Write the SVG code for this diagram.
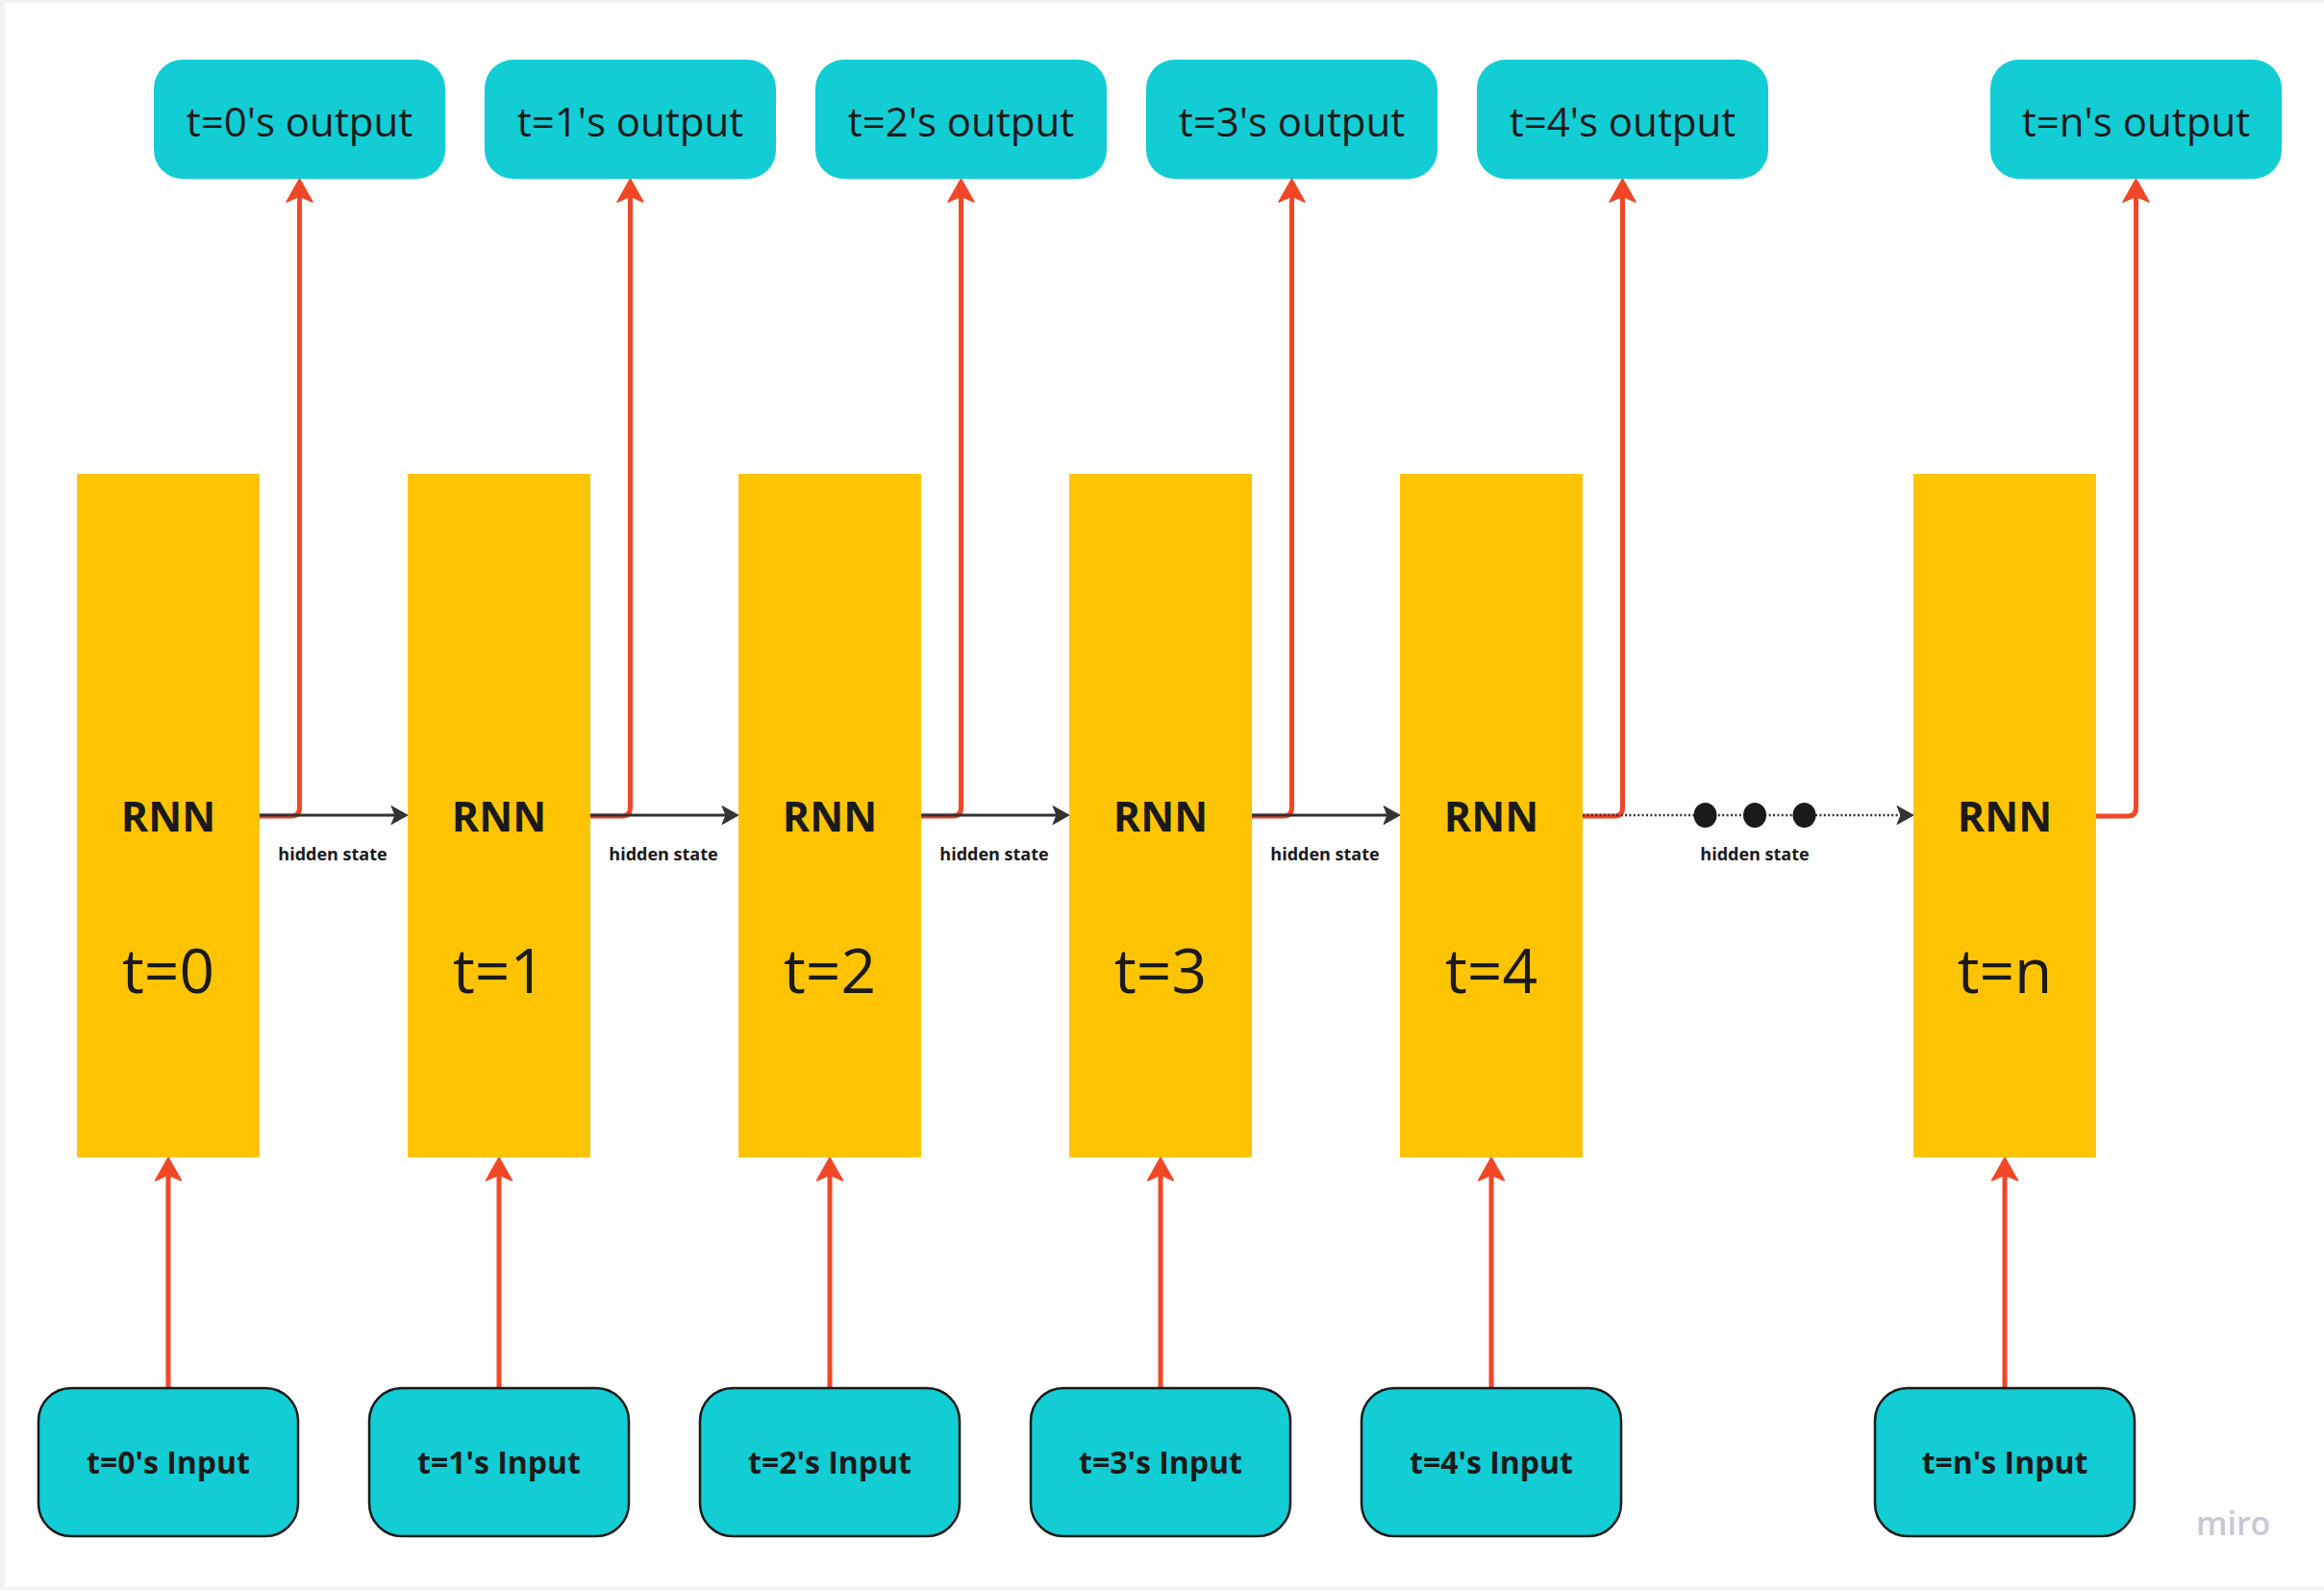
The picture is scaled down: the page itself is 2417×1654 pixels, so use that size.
<svg xmlns="http://www.w3.org/2000/svg" width="2417" height="1654" viewBox="0 0 2417 1654">
<style>
.out{fill:#12CDD4}
.inp{fill:#12CDD4;stroke:#1a1a1a;stroke-width:2.5}
.rnn{fill:#FEC401}
.t-out{font-family:"Open Sans","DejaVu Sans",sans-serif;font-size:42px;fill:#1a1a1a;text-anchor:middle}
.t-in{font-family:"Open Sans","DejaVu Sans",sans-serif;font-size:32px;font-weight:700;fill:#1a1a1a;text-anchor:middle}
.t-rnn{font-family:"Open Sans","DejaVu Sans",sans-serif;font-size:43px;font-weight:700;fill:#1a1a1a;text-anchor:middle}
.t-t{font-family:"Open Sans","DejaVu Sans",sans-serif;font-size:64px;fill:#1a1a1a;text-anchor:middle}
.t-hs{font-family:"Open Sans","DejaVu Sans",sans-serif;font-size:18px;font-weight:700;fill:#1a1a1a;text-anchor:middle}
.red{fill:none;stroke:#F24726;stroke-width:5;stroke-linejoin:round;marker-end:url(#ar)}
.hs{fill:none;stroke:#333333;stroke-width:3;marker-end:url(#ag)}
.dot{fill:none;stroke:#333333;stroke-width:2.5;stroke-dasharray:2 2.4;marker-end:url(#ag)}
</style>
<defs>
<marker id="ar" markerUnits="userSpaceOnUse" viewBox="-26 -16 28 32" refX="-17" refY="0" markerWidth="28" markerHeight="32" orient="auto" overflow="visible">
<path d="M0,0 L-24,-13.5 L-18,0 L-24,13.5 Z" fill="#F24726" stroke="#F24726" stroke-width="1.5" stroke-linejoin="round"/>
</marker>
<marker id="ag" markerUnits="userSpaceOnUse" viewBox="-19 -11 21 22" refX="-12" refY="0" markerWidth="21" markerHeight="22" orient="auto" overflow="visible">
<path d="M0,0 L-17,-9.5 L-13,0 L-17,9.5 Z" fill="#333333" stroke="#333333" stroke-width="1" stroke-linejoin="round"/>
</marker>
</defs>
<rect x="0" y="0" width="2417" height="1654" fill="#f2f2f2"/>
<rect x="5" y="3" width="2412" height="1648" fill="#ffffff"/>

<g id="connectors">
<path class="red" d="M270,849 H303 Q311.5,849 311.5,840 V203"/>
<path class="red" d="M614,849 H647 Q655.5,849 655.5,840 V203"/>
<path class="red" d="M958,849 H991 Q999.5,849 999.5,840 V203"/>
<path class="red" d="M1302,849 H1335 Q1343.5,849 1343.5,840 V203"/>
<path class="red" d="M1646,849 H1679 Q1687.5,849 1687.5,840 V203"/>
<path class="red" d="M2180,849 H2213 Q2221.5,849 2221.5,840 V203"/>
<path class="hs" d="M270,848 H412"/>
<path class="hs" d="M614,848 H756"/>
<path class="hs" d="M958,848 H1100"/>
<path class="hs" d="M1302,848 H1444"/>
<path class="dot" d="M1646,848 H1978"/>
<path class="red" d="M175,1444 V1221"/>
<path class="red" d="M519,1444 V1221"/>
<path class="red" d="M863,1444 V1221"/>
<path class="red" d="M1207,1444 V1221"/>
<path class="red" d="M1551,1444 V1221"/>
<path class="red" d="M2085,1444 V1221"/>
<ellipse cx="1773.5" cy="848" rx="12" ry="13" fill="#1a1a1a"/>
<ellipse cx="1825" cy="848" rx="12" ry="13" fill="#1a1a1a"/>
<ellipse cx="1876.5" cy="848" rx="12" ry="13" fill="#1a1a1a"/>
<text class="t-hs" x="346" y="895">hidden state</text>
<text class="t-hs" x="690" y="895">hidden state</text>
<text class="t-hs" x="1034" y="895">hidden state</text>
<text class="t-hs" x="1378" y="895">hidden state</text>
<text class="t-hs" x="1825" y="895">hidden state</text>
</g>

<g id="out0"><rect class="out" x="160" y="62" width="303" height="124" rx="30"/><text class="t-out" x="311.5" y="142">t=0's output</text></g>
<g id="out1"><rect class="out" x="504" y="62" width="303" height="124" rx="30"/><text class="t-out" x="655.5" y="142">t=1's output</text></g>
<g id="out2"><rect class="out" x="848" y="62" width="303" height="124" rx="30"/><text class="t-out" x="999.5" y="142">t=2's output</text></g>
<g id="out3"><rect class="out" x="1192" y="62" width="303" height="124" rx="30"/><text class="t-out" x="1343.5" y="142">t=3's output</text></g>
<g id="out4"><rect class="out" x="1536" y="62" width="303" height="124" rx="30"/><text class="t-out" x="1687.5" y="142">t=4's output</text></g>
<g id="outn"><rect class="out" x="2070" y="62" width="303" height="124" rx="30"/><text class="t-out" x="2221.5" y="142">t=n's output</text></g>

<g id="rnn0"><rect class="rnn" x="80" y="493" width="190" height="711"/><text class="t-rnn" x="175" y="865">RNN</text><text class="t-t" x="175" y="1033">t=0</text></g>
<g id="rnn1"><rect class="rnn" x="424" y="493" width="190" height="711"/><text class="t-rnn" x="519" y="865">RNN</text><text class="t-t" x="519" y="1033">t=1</text></g>
<g id="rnn2"><rect class="rnn" x="768" y="493" width="190" height="711"/><text class="t-rnn" x="863" y="865">RNN</text><text class="t-t" x="863" y="1033">t=2</text></g>
<g id="rnn3"><rect class="rnn" x="1112" y="493" width="190" height="711"/><text class="t-rnn" x="1207" y="865">RNN</text><text class="t-t" x="1207" y="1033">t=3</text></g>
<g id="rnn4"><rect class="rnn" x="1456" y="493" width="190" height="711"/><text class="t-rnn" x="1551" y="865">RNN</text><text class="t-t" x="1551" y="1033">t=4</text></g>
<g id="rnnn"><rect class="rnn" x="1990" y="493" width="190" height="711"/><text class="t-rnn" x="2085" y="865">RNN</text><text class="t-t" x="2085" y="1033">t=n</text></g>

<g id="in0"><rect class="inp" x="40" y="1444" width="270" height="154" rx="34"/><text class="t-in" x="175" y="1533">t=0's Input</text></g>
<g id="in1"><rect class="inp" x="384" y="1444" width="270" height="154" rx="34"/><text class="t-in" x="519" y="1533">t=1's Input</text></g>
<g id="in2"><rect class="inp" x="728" y="1444" width="270" height="154" rx="34"/><text class="t-in" x="863" y="1533">t=2's Input</text></g>
<g id="in3"><rect class="inp" x="1072" y="1444" width="270" height="154" rx="34"/><text class="t-in" x="1207" y="1533">t=3's Input</text></g>
<g id="in4"><rect class="inp" x="1416" y="1444" width="270" height="154" rx="34"/><text class="t-in" x="1551" y="1533">t=4's Input</text></g>
<g id="inn"><rect class="inp" x="1950" y="1444" width="270" height="154" rx="34"/><text class="t-in" x="2085" y="1533">t=n's Input</text></g>

<text x="2284" y="1597" font-family="'Open Sans','DejaVu Sans',sans-serif" font-size="34" font-weight="600" fill="#c8c8d4">miro</text>
</svg>
